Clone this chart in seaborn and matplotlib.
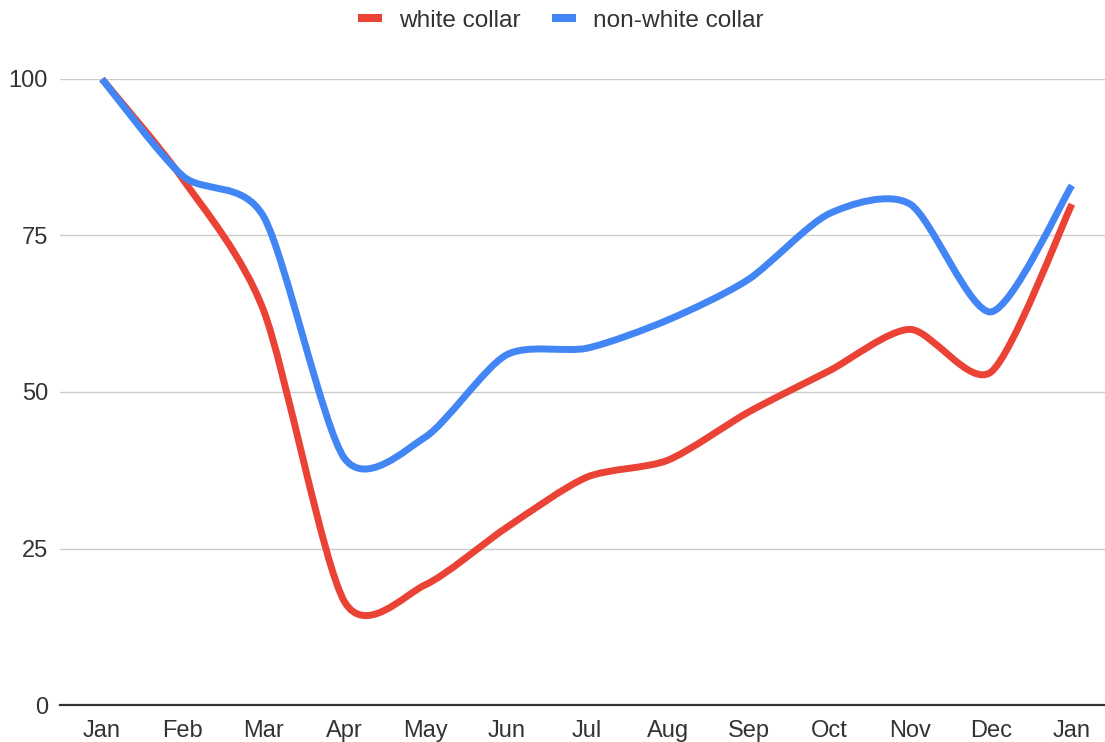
import numpy as np
import pandas as pd
import matplotlib
matplotlib.use("Agg")
import matplotlib.pyplot as plt
import seaborn as sns
from matplotlib.path import Path
from matplotlib.patches import PathPatch
from matplotlib.lines import Line2D

months = ["Jan", "Feb", "Mar", "Apr", "May", "Jun", "Jul",
          "Aug", "Sep", "Oct", "Nov", "Dec", "Jan"]
white_collar = [100, 84, 63, 16.5, 19.2, 28.3, 36.4, 39.1, 46.8, 53.4, 60, 53.2, 80]
non_white_collar = [100, 84.5, 78, 39.4, 42.8, 55.9, 57, 61.5, 68, 78.5, 80, 62.8, 83]

series_names = ["white collar", "non-white collar"]
colors = {"white collar": "#EA4335", "non-white collar": "#4285F4"}

df = pd.concat([
    pd.DataFrame({"idx": range(len(months)), "value": white_collar, "series": "white collar"}),
    pd.DataFrame({"idx": range(len(months)), "value": non_white_collar, "series": "non-white collar"}),
])


def smooth_path(xs, ys, k=0.13):
    # cardinal-style bezier through the points, like the sheets "smooth" option
    pts = np.column_stack([xs, ys])
    n = len(pts)
    verts = [pts[0]]
    codes = [Path.MOVETO]
    for i in range(n - 1):
        p0 = pts[max(i - 1, 0)]
        p1 = pts[i]
        p2 = pts[i + 1]
        p3 = pts[min(i + 2, n - 1)]
        c1 = p1 + (p2 - p0) * k
        c2 = p2 - (p3 - p1) * k
        verts += [c1, c2, p2]
        codes += [Path.CURVE4] * 3
    return Path(verts, codes)


sns.set_theme(style="whitegrid")
plt.rcParams["font.family"] = ["Liberation Sans", "DejaVu Sans"]

fig = plt.figure(figsize=(11.05, 7.42), dpi=100)
ax = fig.add_axes([60 / 1105, 37 / 742, 1045 / 1105, 626 / 742])

sns.lineplot(data=df, x="idx", y="value", hue="series", hue_order=series_names,
             palette=colors, legend=False, ax=ax)

# swap the straight segments for smooth curves
for line, name in zip(list(ax.lines), series_names):
    xy = line.get_xydata()
    patch = PathPatch(smooth_path(xy[:, 0], xy[:, 1]), facecolor="none",
                      edgecolor=colors[name], lw=5, capstyle="butt",
                      joinstyle="round", clip_on=False, zorder=3)
    ax.add_patch(patch)
    line.remove()

ax.set_xlim(-0.52, 12.41)
ax.set_ylim(0, 100)
ax.set_xticks(range(len(months)))
ax.set_xticklabels(months)
ax.set_yticks([0, 25, 50, 75, 100])
ax.set_xlabel("")
ax.set_ylabel("")

ax.grid(axis="x", visible=False)
ax.grid(axis="y", color="#cccccc", lw=1.0)
for side in ["left", "right", "top"]:
    ax.spines[side].set_visible(False)
ax.spines["bottom"].set_color("#333333")
ax.spines["bottom"].set_linewidth(1.6)
ax.set_facecolor("white")

ax.tick_params(axis="x", length=0, pad=11, labelsize=17, labelcolor="#333333")
ax.tick_params(axis="y", length=0, pad=8.6, labelsize=17, labelcolor="#333333")

handles = [Line2D([], [], color=colors[n], lw=5.8, solid_capstyle="butt") for n in series_names]
fig.legend(handles, series_names, loc="center", bbox_to_anchor=(561 / 1105, 1 - 21 / 742),
           ncol=2, frameon=False, fontsize=17.6, handlelength=0.98, handletextpad=0.68,
           columnspacing=1.3, labelcolor="#333333")

fig.savefig("out.png", dpi=100, facecolor="white")
